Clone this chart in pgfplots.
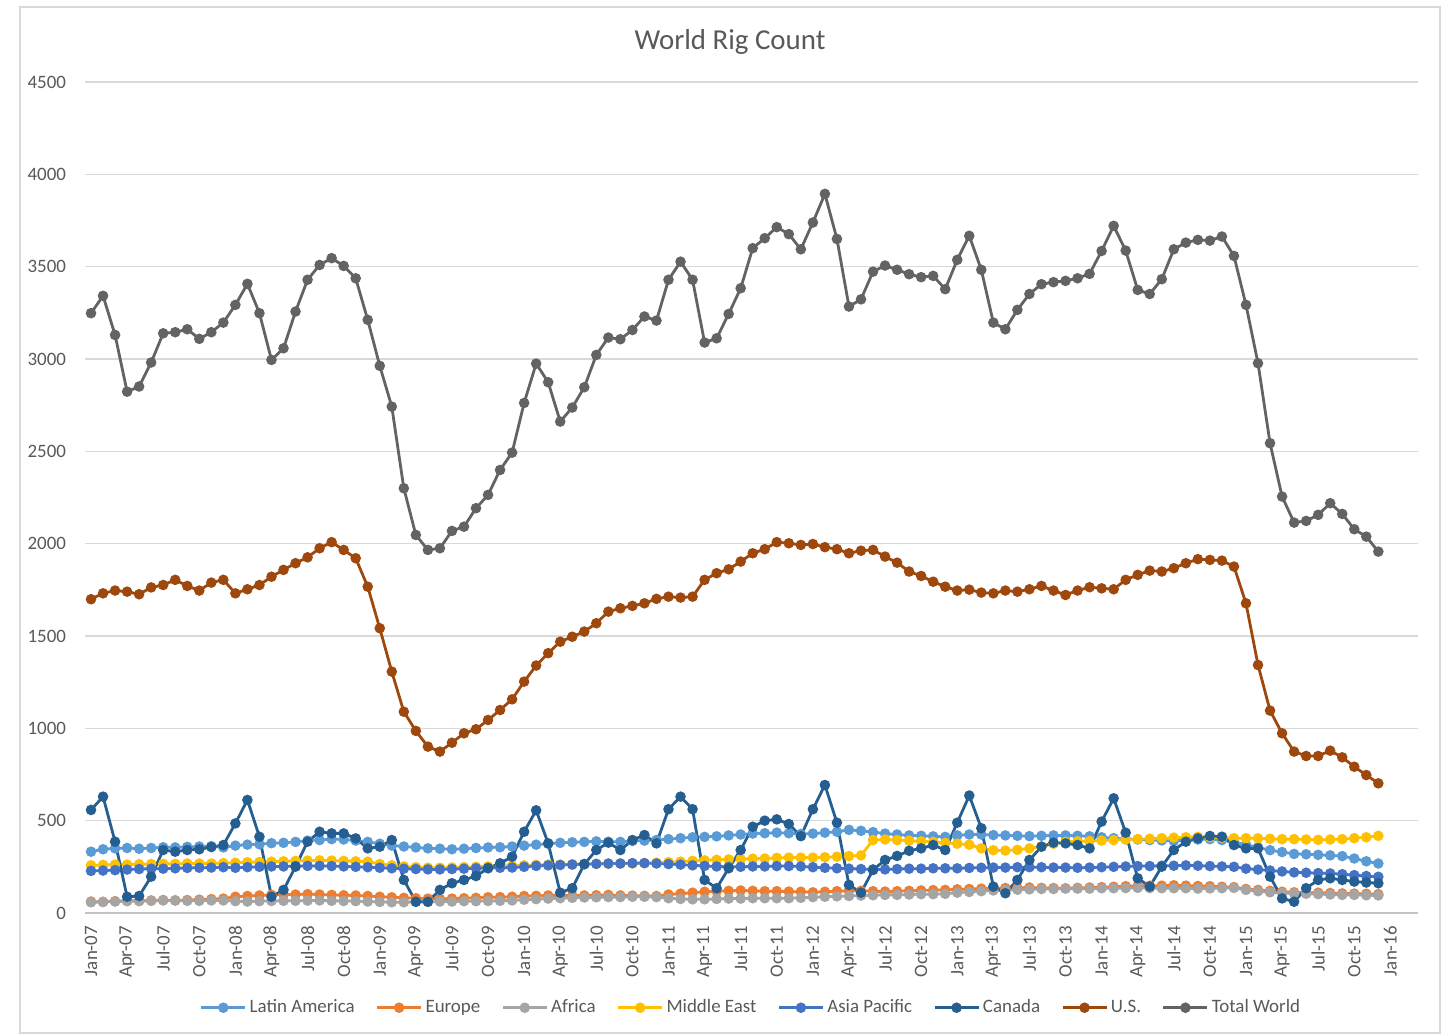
\documentclass[border=0pt]{standalone}
\usepackage{pgfplots}
\pgfplotsset{compat=1.18}
\usepackage{pgfplotstable}
\usepackage{fontspec}
\setmainfont{Carlito}

\definecolor{latam}{HTML}{5B9BD5}
\definecolor{europe}{HTML}{ED7D31}
\definecolor{africa}{HTML}{A5A5A5}
\definecolor{mideast}{HTML}{FFC000}
\definecolor{asiapac}{HTML}{4472C4}
\definecolor{canada}{HTML}{255E91}
\definecolor{usa}{HTML}{9E480E}
\definecolor{world}{HTML}{636363}
\definecolor{txt}{HTML}{595959}
\definecolor{gridc}{HTML}{D9D9D9}

% monthly rig counts, Jan-07 (i=0) to Dec-15 (i=107)
\pgfplotstableread{
i la eu af me ap ca us tw
0 332 62 58 258 228 558 1699 3248
1 345 60 60 260 230 630 1731 3342
2 350 64 62 262 232 386 1746 3130
3 352 66 64 262 235 88 1740 2823
4 348 65 65 264 238 92 1726 2851
5 352 68 66 265 240 197 1763 2981
6 356 70 68 266 240 341 1776 3139
7 355 68 68 266 242 332 1804 3145
8 358 70 66 268 244 341 1771 3161
9 360 72 66 268 245 345 1746 3109
10 362 75 68 268 246 357 1789 3145
11 355 78 68 270 248 368 1804 3197
12 365 88 64 272 245 485 1731 3293
13 370 92 62 275 248 612 1753 3407
14 372 95 64 276 250 413 1776 3248
15 378 98 65 278 252 88 1821 2995
16 380 100 66 280 252 125 1858 3058
17 385 100 66 282 254 251 1894 3257
18 392 102 67 284 255 386 1926 3429
19 395 100 68 285 255 440 1975 3509
20 400 98 66 284 254 431 2008 3546
21 398 96 65 282 252 431 1966 3504
22 392 95 64 280 250 404 1921 3437
23 385 92 62 278 248 350 1767 3212
24 375 88 60 265 245 359 1542 2963
25 365 85 58 258 242 395 1307 2742
26 360 82 58 252 240 179 1090 2300
27 355 80 60 248 238 61 986 2047
28 350 78 60 245 236 61 901 1966
29 348 76 62 245 236 125 874 1975
30 345 78 62 246 238 161 922 2069
31 348 80 64 248 240 179 973 2092
32 352 82 64 250 242 200 995 2192
33 355 85 65 252 244 242 1045 2264
34 356 86 66 254 245 269 1099 2399
35 360 88 68 256 246 305 1157 2493
36 365 92 72 258 250 440 1253 2762
37 370 93 75 260 255 556 1340 2975
38 375 95 78 262 258 377 1407 2874
39 380 96 80 262 260 110 1469 2661
40 383 94 82 264 262 134 1496 2737
41 385 95 84 265 265 264 1524 2847
42 388 96 85 266 266 341 1569 3022
43 386 98 86 266 268 381 1632 3116
44 385 95 86 268 268 341 1650 3107
45 390 94 88 268 270 395 1663 3157
46 392 93 88 270 270 422 1677 3230
47 395 92 86 272 268 377 1701 3208
48 400 100 80 275 265 562 1713 3429
49 405 105 76 278 262 630 1708 3527
50 410 110 74 282 258 562 1713 3429
51 412 115 74 285 255 179 1804 3089
52 415 118 76 288 252 134 1840 3112
53 420 120 78 290 250 242 1861 3244
54 425 122 78 292 250 341 1903 3383
55 430 120 80 294 252 467 1948 3600
56 432 118 80 295 252 500 1970 3654
57 435 118 80 298 254 507 2008 3714
58 432 116 80 300 254 482 2002 3676
59 428 115 82 300 252 416 1993 3594
60 430 112 86 300 248 562 1998 3739
61 435 115 88 302 245 693 1981 3894
62 440 118 90 305 242 489 1970 3650
63 450 120 92 308 240 152 1948 3284
64 445 120 94 312 238 110 1962 3323
65 438 118 96 395 236 233 1966 3473
66 430 116 98 398 236 287 1930 3506
67 425 118 98 395 238 309 1897 3483
68 420 120 100 392 240 337 1849 3459
69 418 122 102 388 240 350 1825 3443
70 415 124 102 385 242 368 1794 3450
71 412 125 104 380 242 341 1767 3378
72 420 128 110 375 242 489 1746 3537
73 425 130 114 370 244 636 1751 3667
74 425 132 118 350 245 459 1735 3483
75 422 134 122 340 246 143 1731 3197
76 420 135 124 338 246 107 1746 3161
77 418 136 126 342 248 179 1740 3266
78 416 138 128 350 248 287 1753 3352
79 418 136 130 360 248 359 1771 3405
80 420 135 130 375 246 381 1746 3416
81 420 134 132 385 246 377 1722 3423
82 418 136 132 388 245 368 1746 3437
83 415 138 132 390 246 350 1764 3461
84 410 140 134 392 248 495 1758 3585
85 405 142 134 395 250 621 1753 3721
86 400 145 135 398 252 435 1804 3587
87 398 146 136 400 254 188 1831 3374
88 395 148 135 402 254 143 1854 3352
89 393 148 134 405 256 251 1849 3432
90 390 150 134 408 256 341 1867 3594
91 395 148 134 410 258 386 1894 3630
92 398 146 132 412 256 404 1916 3645
93 400 145 133 410 254 417 1912 3641
94 395 142 134 408 252 413 1908 3663
95 385 140 136 405 250 368 1876 3558
96 370 130 125 405 240 350 1677 3293
97 355 125 118 404 235 350 1343 2977
98 340 120 112 402 230 197 1096 2544
99 330 115 108 400 225 79 973 2255
100 320 112 106 400 220 61 874 2114
101 318 110 104 398 218 134 850 2123
102 315 110 102 396 216 179 850 2156
103 312 108 100 398 214 188 879 2219
104 308 106 98 400 210 179 843 2161
105 295 105 98 405 205 170 792 2078
106 280 104 96 410 200 165 747 2038
107 268 102 95 418 196 161 702 1957
}\rigs

\begin{document}
\begin{tikzpicture}[x=1bp,y=1bp]
\useasboundingbox (0,0) rectangle (725.5,517.5);
\draw[draw=gridc, line width=0.6bp] (10,1) rectangle (720,514);
\node[font=\fontsize{14.5}{17}\selectfont, text=txt] at (365,496.5) {World Rig Count};

\begin{axis}[
    at={(42.5bp,61bp)}, anchor=south west,
    scale only axis,
    width=666.5bp, height=415.5bp,
    xmin=-0.5, xmax=110.3,
    ymin=0, ymax=4500,
    ytick={0,500,...,4500},
    xtick={0,3,...,108},
    xticklabels={Jan-07,Apr-07,Jul-07,Oct-07,Jan-08,Apr-08,Jul-08,Oct-08,
        Jan-09,Apr-09,Jul-09,Oct-09,Jan-10,Apr-10,Jul-10,Oct-10,
        Jan-11,Apr-11,Jul-11,Oct-11,Jan-12,Apr-12,Jul-12,Oct-12,
        Jan-13,Apr-13,Jul-13,Oct-13,Jan-14,Apr-14,Jul-14,Oct-14,
        Jan-15,Apr-15,Jul-15,Oct-15,Jan-16},
    ymajorgrids,
    grid style={draw=gridc, line width=0.6bp},
    axis x line*=bottom, axis y line*=left,
    x axis line style={draw=gridc!90!black, line width=0.6bp, -},
    y axis line style={draw=none},
    major tick length=0pt,
    tick style={draw=none},
    tick label style={font=\fontsize{9.5}{11}\selectfont, text=txt},
    xticklabel style={yshift=-3bp, rotate=90, anchor=east},
    yticklabel style={xshift=-6bp},
    /pgf/number format/.cd, 1000 sep={}, assume math mode=true,
    /pgfplots/.cd,
    clip=false,
    every axis plot/.append style={line width=1.4bp, mark=*, mark size=1.9bp, mark options={solid}},
    legend columns=8,
    legend style={draw=none, fill=none, at={(0.5,-0.114)}, anchor=center,
        font=\fontsize{9.5}{11}\selectfont, text=txt,
        /tikz/every odd column/.append style={column sep=0bp},
        /tikz/every even column/.append style={column sep=9bp},
        /tikz/nodes={inner xsep=1.5bp}},
    legend image code/.code={\draw[mark repeat=2, mark phase=2] plot coordinates {(0bp,0bp) (11bp,0bp) (22bp,0bp)};},
]
\addplot[latam] table[x=i, y=la] {\rigs};
\addlegendentry{Latin America}
\addplot[europe] table[x=i, y=eu] {\rigs};
\addlegendentry{Europe}
\addplot[africa] table[x=i, y=af] {\rigs};
\addlegendentry{Africa}
\addplot[mideast] table[x=i, y=me] {\rigs};
\addlegendentry{Middle East}
\addplot[asiapac] table[x=i, y=ap] {\rigs};
\addlegendentry{Asia Pacific}
\addplot[canada] table[x=i, y=ca] {\rigs};
\addlegendentry{Canada}
\addplot[usa] table[x=i, y=us] {\rigs};
\addlegendentry{U.S.}
\addplot[world] table[x=i, y=tw] {\rigs};
\addlegendentry{Total World}
\end{axis}
\end{tikzpicture}
\end{document}
